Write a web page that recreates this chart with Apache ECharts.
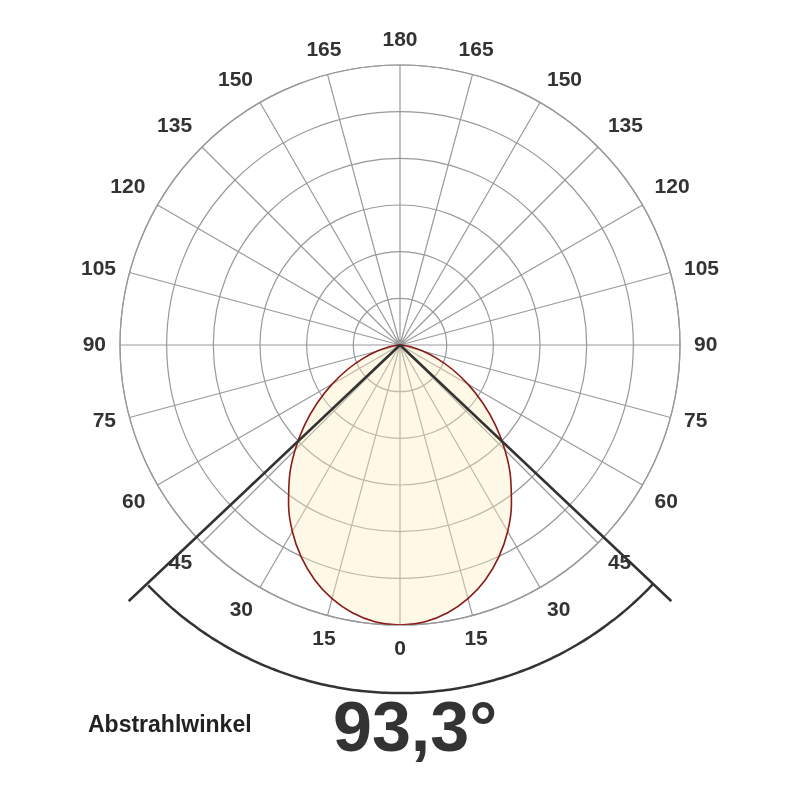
<!DOCTYPE html><html><head><meta charset="utf-8">
<script src="https://cdn.jsdelivr.net/npm/echarts@6/dist/echarts.min.js"></script>
<style>html,body{margin:0;background:#fff}#c{width:800px;height:800px}</style></head><body><div id="c"></div>
<script>
const angles=[0,5,10,15,20,25,30,35,40,45,50,55,60,65,70,75,80,85,90];
const intensity=[100,99.3,97.2,93.8,89.2,83.5,76.9,69.4,61.4,53,44.5,36.1,28.1,20.7,14,8.4,4.1,1.2,0];
const beamAngle=93.3;
const angleTicks=[0,15,30,45,60,75,90,105,120,135,150,165,180];
const ringCount=6;

const curve=[];
for(let i=angles.length-1;i>=0;i--) curve.push([intensity[i]/100*ringCount,angles[i]]);
for(let i=1;i<angles.length;i++) curve.push([intensity[i]/100*ringCount,360-angles[i]]);
const half=beamAngle/2;
const arc=[];
for(let a=-half;a<=half+0.001;a+=1) arc.push([7.46,(a<0?360+a:a)]);
const c=echarts.init(document.getElementById('c'));
const lab={fontFamily:'Liberation Sans',fontWeight:'bold',fontSize:21,color:'#333'};
c.setOption({
 animation:false,
 polar:[{center:[400,345],radius:280},{center:[400,345],radius:373.3}],
 angleAxis:[{polarIndex:0,type:'value',min:0,max:360,interval:15,startAngle:270,clockwise:true,
   axisLine:{lineStyle:{color:'#999',width:1.2}},axisTick:{show:false},
   splitLine:{lineStyle:{color:'#999',width:1.2}},
   axisLabel:Object.assign({margin:14,formatter:v=>{if(v===360)return '';const d=v>180?360-v:v;return angleTicks.includes(d)?String(d):'';}},lab)},
  {polarIndex:1,type:'value',min:0,max:360,startAngle:270,clockwise:true,show:false}],
 radiusAxis:[{polarIndex:0,min:0,max:ringCount,interval:1,axisLine:{show:false},axisTick:{show:false},axisLabel:{show:false},
   splitLine:{lineStyle:{color:'#999',width:1.2}}},
  {polarIndex:1,min:0,max:8,show:false}],
 series:[
  {type:'line',coordinateSystem:'polar',polarIndex:0,data:curve,symbol:'none',smooth:0.4,
   lineStyle:{color:'#8b1a1a',width:1.6},areaStyle:{color:'rgba(250,240,190,0.55)'},z:1},
  {type:'line',coordinateSystem:'polar',polarIndex:1,data:[[8,360-half],[0,0],[8,half]],symbol:'none',lineStyle:{color:'#333',width:2.5},z:3},
  {type:'line',coordinateSystem:'polar',polarIndex:1,data:arc,symbol:'none',smooth:true,lineStyle:{color:'#333',width:2.5},z:3}
 ],
 graphic:[
  {type:'text',left:88,top:714,style:{text:'Abstrahlwinkel',font:'bold 23px "Liberation Sans"',fill:'#222'}},
  {type:'text',left:333,top:697,style:{text:'93,3°',font:'bold 70px "Liberation Sans"',fill:'#333'}}
 ]
});
</script></body></html>
